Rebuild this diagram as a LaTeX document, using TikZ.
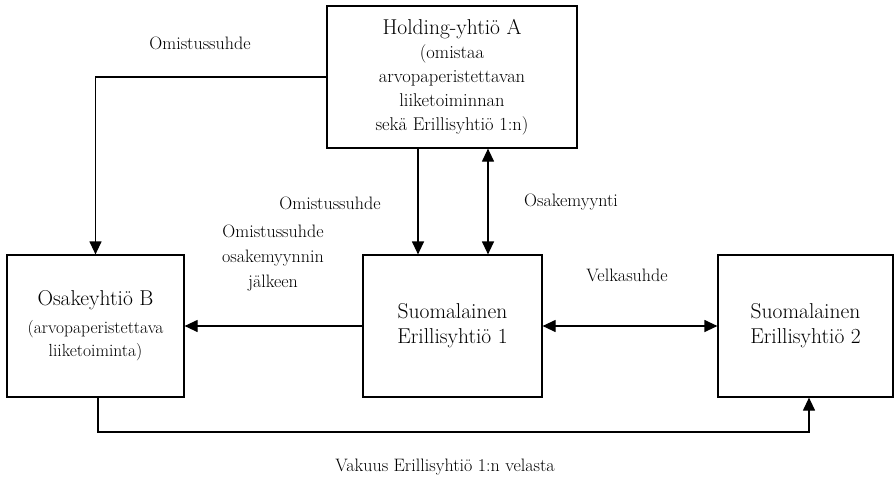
\documentclass[tikz,border=0pt]{standalone}
\usepackage{fontspec}
\setmainfont{Latin Modern Roman}
\usetikzlibrary{arrows.meta}
\newcommand{\ttlfont}{\fontsize{21.5}{25}\selectfont}
\begin{document}
\begin{tikzpicture}[x=1pt,y=-1pt,
  box/.style={draw,line width=1.2pt,rectangle,inner sep=0pt,align=center,minimum height=142pt},
  boxA/.style={box,font=\fontsize{18.5}{24}\selectfont},
  boxB/.style={box,font=\fontsize{17.5}{23}\selectfont},
  boxS/.style={box,font=\fontsize{21.5}{25}\selectfont},
  arr/.style={line width=1.2pt,-{Triangle[length=13pt,width=12pt]}},
  darr/.style={line width=1.2pt,{Triangle[length=13pt,width=12pt]}-{Triangle[length=13pt,width=12pt]}},
  lbl/.style={font=\fontsize{18}{25}\selectfont,align=center,inner sep=0pt}]
\useasboundingbox (0,0) rectangle (894,480);
\node[boxA,minimum width=250pt] (A) at (452,77) {{\ttlfont Holding-yhtiö A}\\(omistaa\\arvopaperistettavan\\liiketoiminnan\\sekä Erillisyhtiö 1:n)};
\node[boxB,minimum width=177pt] (B) at (95.5,326) {{\ttlfont Osakeyhtiö B}\\[5pt](arvopaperistettava\\liiketoiminta)};
\node[boxS,minimum width=179pt] (S1) at (452.5,326) {Suomalainen\\Erillisyhtiö 1};
\node[boxS,minimum width=175pt] (S2) at (805.5,326) {Suomalainen\\Erillisyhtiö 2};
\coordinate (p1) at (418,0);
\coordinate (p2) at (488,0);
\draw[arr] (A.west) -| (B.north);
\draw[arr] (A.south -| p1) -- (S1.north -| p1);
\draw[darr] (A.south -| p2) -- (S1.north -| p2);
\draw[arr] (S1.west) -- (B.east);
\draw[darr] (S1.east) -- (S2.west);
\coordinate (c1) at (98,432);
\coordinate (c2) at (809,432);
\draw[arr] (B.south -| c1) -- (c1) -- (c2) -- (S2.south -| c2);
\node[lbl] (l1) at (200,43) {Omistussuhde};
\node[lbl] (l2) at (330,203) {Omistussuhde};
\node[lbl] (l3) at (571,202) {Osakemyynti};
\node[lbl] (l4) at (273,258) {Omistussuhde\\osakemyynnin\\jälkeen};
\node[lbl] (l5) at (627,275) {Velkasuhde};
\node[lbl] (l6) at (445,467) {Vakuus Erillisyhtiö 1:n velasta};
\end{tikzpicture}
\end{document}
